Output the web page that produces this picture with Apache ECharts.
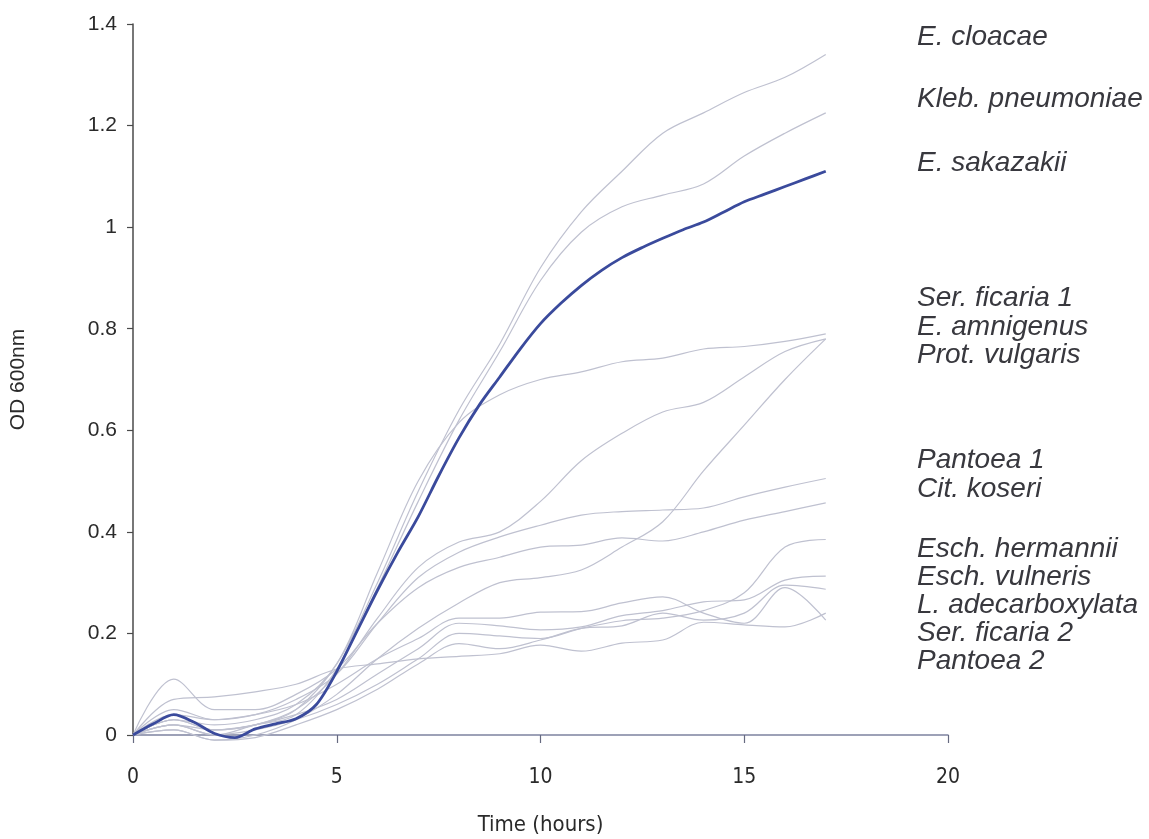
<!DOCTYPE html>
<html>
<head>
<meta charset="utf-8">
<script src="https://cdn.jsdelivr.net/npm/echarts@6/dist/echarts.min.js"></script>
<style>
  html, body { margin: 0; padding: 0; background: #ffffff; }
  #chart { width: 1149px; height: 839px; }
</style>
</head>
<body>
<div id="chart"></div>
<script>
// Growth curves (OD 600nm) of Enterobacteriaceae strains over 17 hours
const hoursHourly = [0, 1, 2, 3, 4, 5, 6, 7, 8, 9, 10, 11, 12, 13, 14, 15, 16, 17];
const hoursHalf = [0, 0.5, 1, 1.5, 2, 2.5, 3, 3.5, 4, 4.5, 5, 5.5, 6, 6.5, 7, 7.5, 8, 8.5,
                   9, 9.5, 10, 10.5, 11, 11.5, 12, 12.5, 13, 13.5, 14, 14.5, 15, 15.5, 16, 16.5, 17];

// Highlighted strain (half-hourly readings)
const eSakazakii = [0, 0.022, 0.04, 0.025, 0.003, -0.005, 0.012, 0.022, 0.032, 0.06, 0.125, 0.205,
                    0.285, 0.36, 0.43, 0.51, 0.585, 0.65, 0.705, 0.76, 0.81, 0.85, 0.885, 0.915,
                    0.94, 0.96, 0.978, 0.995, 1.01, 1.03, 1.05, 1.065, 1.08, 1.095, 1.11];

// Other strains (hourly readings)
const eCloacae       = [0, 0.03, 0.01, 0.02, 0.05, 0.14, 0.30, 0.48, 0.64, 0.77, 0.92, 1.03, 1.11, 1.185, 1.225, 1.265, 1.295, 1.34];
const klebPneumoniae = [0, 0.02, 0.0, 0.02, 0.04, 0.13, 0.29, 0.46, 0.62, 0.755, 0.895, 0.99, 1.04, 1.063, 1.085, 1.14, 1.185, 1.225];
const serFicaria1    = [0, 0.03, 0.02, 0.03, 0.06, 0.14, 0.32, 0.50, 0.615, 0.67, 0.70, 0.715, 0.735, 0.742, 0.76, 0.765, 0.775, 0.79];
const eAmnigenus     = [0, 0.02, 0.01, 0.02, 0.05, 0.12, 0.23, 0.33, 0.38, 0.40, 0.46, 0.54, 0.594, 0.636, 0.655, 0.705, 0.755, 0.78];
const protVulgaris   = [0, 0.01, -0.01, 0.0, 0.03, 0.08, 0.15, 0.21, 0.26, 0.30, 0.31, 0.325, 0.37, 0.42, 0.52, 0.61, 0.70, 0.78];
const pantoea1       = [0, 0.04, 0.03, 0.04, 0.07, 0.12, 0.22, 0.31, 0.36, 0.39, 0.413, 0.433, 0.44, 0.443, 0.447, 0.469, 0.488, 0.505];
const citKoseri      = [0, 0.11, 0.05, 0.05, 0.08, 0.13, 0.22, 0.29, 0.33, 0.35, 0.37, 0.374, 0.388, 0.382, 0.40, 0.423, 0.44, 0.457];
const eschHermannii  = [0, 0.02, 0.0, 0.01, 0.03, 0.06, 0.10, 0.15, 0.20, 0.195, 0.19, 0.21, 0.225, 0.23, 0.245, 0.28, 0.37, 0.385];
const eschVulneris   = [0, 0.03, 0.01, 0.02, 0.04, 0.07, 0.12, 0.17, 0.22, 0.215, 0.207, 0.213, 0.235, 0.245, 0.262, 0.266, 0.305, 0.313];
const lAdecarbox     = [0, 0.01, -0.01, -0.005, 0.02, 0.05, 0.09, 0.14, 0.18, 0.17, 0.187, 0.21, 0.215, 0.24, 0.226, 0.24, 0.295, 0.287];
const serFicaria2    = [0, 0.07, 0.075, 0.085, 0.10, 0.13, 0.14, 0.15, 0.155, 0.16, 0.177, 0.165, 0.181, 0.187, 0.222, 0.217, 0.213, 0.24];
const pantoea2       = [0, 0.05, 0.03, 0.04, 0.06, 0.10, 0.15, 0.19, 0.23, 0.23, 0.242, 0.243, 0.26, 0.272, 0.24, 0.22, 0.29, 0.226];

// Strain names listed beside the plot, top to bottom
const strainNames = ['E. cloacae', 'Kleb. pneumoniae', 'E. sakazakii',
  'Ser. ficaria 1', 'E. amnigenus', 'Prot. vulgaris',
  'Pantoea 1', 'Cit. koseri',
  'Esch. hermannii', 'Esch. vulneris', 'L. adecarboxylata', 'Ser. ficaria 2', 'Pantoea 2'];
const nameRows = [35, 97, 161, 296, 325, 353, 458, 487, 547, 575, 603, 631, 659];

const xTicks = [0, 5, 10, 15, 20];

const pairs = (xs, ys) => ys.map((v, i) => [xs[i], v]);

const greySeries = [
  ['E. cloacae', eCloacae], ['Kleb. pneumoniae', klebPneumoniae],
  ['Ser. ficaria 1', serFicaria1], ['E. amnigenus', eAmnigenus], ['Prot. vulgaris', protVulgaris],
  ['Pantoea 1', pantoea1], ['Cit. koseri', citKoseri],
  ['Esch. hermannii', eschHermannii], ['Esch. vulneris', eschVulneris],
  ['L. adecarboxylata', lAdecarbox], ['Ser. ficaria 2', serFicaria2], ['Pantoea 2', pantoea2]
].map(([name, vals]) => ({
  name: name,
  type: 'line',
  data: pairs(hoursHourly, vals),
  showSymbol: false,
  smooth: 0.35,
  clip: false,
  lineStyle: { color: '#bfc1d0', width: 1.2 },
  z: 2
}));

const mainSeries = {
  name: 'E. sakazakii',
  type: 'line',
  data: pairs(hoursHalf, eSakazakii),
  showSymbol: false,
  smooth: 0.3,
  clip: false,
  lineStyle: { color: '#3a4a9c', width: 2.8 },
  z: 5
};

const narrowFont = '"Liberation Sans Narrow", "DejaVu Sans Condensed", sans-serif';
const plainFont = '"Liberation Sans", Arial, sans-serif';

const chart = echarts.init(document.getElementById('chart'), null, { renderer: 'canvas' });

chart.setOption({
  backgroundColor: '#ffffff',
  animation: false,
  grid: { left: 133, right: 201, top: 24, bottom: 104, containLabel: false, outerBoundsMode: 'none' },
  xAxis: {
    type: 'value',
    min: 0, max: 20, interval: 5,
    name: 'Time (hours)',
    nameLocation: 'middle',
    nameGap: 79,
    nameTextStyle: { fontFamily: narrowFont, fontSize: 22, color: '#2a2a2a' },
    axisLine: { show: true, onZero: false, lineStyle: { color: '#7d82a0', width: 1.5 } },
    axisTick: { show: true, inside: false, length: 8, lineStyle: { color: '#666a80', width: 1.2 } },
    axisLabel: {
      margin: 32,
      fontFamily: narrowFont,
      fontSize: 21, color: '#2a2a2a',
      formatter: v => xTicks.includes(v) ? String(v) : ''
    },
    splitLine: { show: false }
  },
  yAxis: {
    type: 'value',
    min: 0, max: 1.4, interval: 0.2,
    name: 'OD 600nm',
    nameLocation: 'middle',
    nameGap: 104,
    nameRotate: 90,
    nameTextStyle: { fontFamily: plainFont, fontSize: 21, color: '#2a2a2a' },
    axisLine: { show: true, lineStyle: { color: '#4a4a4a', width: 1.5 } },
    axisTick: { show: true, inside: false, length: 6, lineStyle: { color: '#4a4a4a', width: 1.2 } },
    axisLabel: {
      margin: 16,
      fontFamily: plainFont,
      fontSize: 21, color: '#2a2a2a',
      formatter: v => (Math.abs(v - Math.round(v)) < 1e-9 ? String(Math.round(v)) : v.toFixed(1))
    },
    splitLine: { show: false }
  },
  series: greySeries.concat([mainSeries]),
  graphic: strainNames.map((name, i) => ({
    type: 'text',
    left: 917,
    top: nameRows[i] - 12,
    style: {
      text: name,
      font: 'italic 28px "Liberation Sans", Arial, sans-serif',
      fill: '#38383e'
    }
  }))
});
</script>
</body>
</html>
